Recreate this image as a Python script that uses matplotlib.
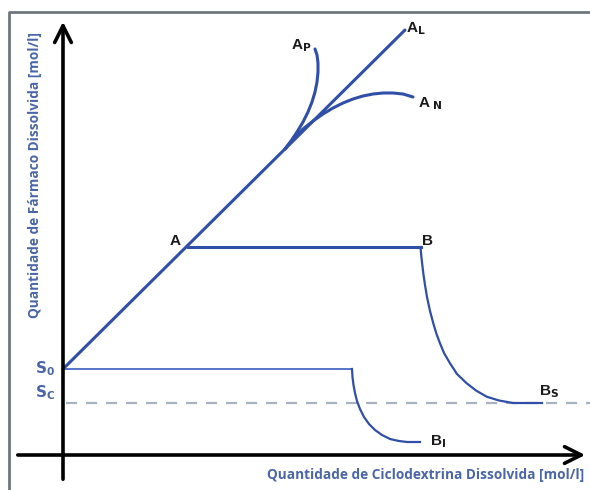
import matplotlib
matplotlib.use("Agg")
import matplotlib.pyplot as plt
from matplotlib.lines import Line2D

# Phase-solubility diagram (Higuchi-Connors types)
s0 = 8.6          # intrinsic solubility S0
sc = 5.2          # solubility of the complex Sc

# A_L: linear rise
al_x = [0.0, 34.2]
al_y = [8.6, 42.5]

# plateau A -> B
a_x, b_x, ab_y = 12.5, 35.75, 20.8

# A_P (positive deviation)
ap_x = [22.2, 22.8, 23.4, 24.0, 24.5, 24.9, 25.2, 25.4, 25.5, 25.5, 25.4, 25.2]
ap_y = [30.6, 31.4, 32.3, 33.3, 34.3, 35.3, 36.3, 37.3, 38.3, 39.2, 40.0, 40.6]

# A_N (negative deviation)
an_x = [22.2, 23.0, 24.0, 25.0, 26.0, 27.0, 28.0, 29.0, 30.0, 31.0, 32.0, 33.0, 34.0, 35.0]
an_y = [30.6, 31.6, 32.6, 33.4, 34.1, 34.7, 35.2, 35.6, 35.9, 36.1, 36.2, 36.2, 36.1, 35.8]

# B_S curve
bs_x = [35.75, 35.82, 35.92, 36.03, 36.2, 36.4, 36.7, 37.03, 37.35, 37.7, 38.1, 38.7,
        39.4, 40.37, 41.3, 42.37, 43.6, 45.0, 47.9]
bs_y = [20.8, 20.0, 19.1, 18.17, 17.0, 15.8, 14.4, 13.17, 12.1, 11.17, 10.2, 9.17,
        8.1, 7.17, 6.45, 5.83, 5.45, 5.2, 5.2]

# B_I curve
bi_x = [0.0, 28.9, 28.95, 29.05, 29.2, 29.4, 29.7, 30.1, 30.6, 31.2, 31.9, 32.7,
        33.6, 34.4, 35.7]
bi_y = [8.6, 8.6, 7.8, 7.0, 6.2, 5.4, 4.6, 3.8, 3.1, 2.5, 2.0, 1.6, 1.4, 1.3, 1.3]

blue = "#2f4fa8"
label_blue = "#4a66a8"

fig = plt.figure(figsize=(5.9, 4.9), dpi=100)
fig.patch.set_facecolor("white")
ax = fig.add_axes([0, 0, 1, 1])
ax.set_xlim(-6.3, 52.7)
ax.set_ylim(-3.5, 45.5)
ax.axis("off")

# outer frame (top and left edges)
fig.add_artist(Line2D([9/590, 9/590, 1.0], [0.0, 1 - 12/490, 1 - 12/490],
                      transform=fig.transFigure, color="#6e777d", lw=2.0))

# axes arrows
ax.annotate("", xy=(0, 43.6), xytext=(0, -2.7),
            arrowprops=dict(arrowstyle="->,head_length=1.2,head_width=0.6",
                            color="black", lw=2.6))
ax.annotate("", xy=(52.5, 0), xytext=(-4.8, 0),
            arrowprops=dict(arrowstyle="->,head_length=1.2,head_width=0.6",
                            color="black", lw=2.6))

# Sc dashed level
ax.plot([0.3, 52.7], [sc, sc], color="#a9b3c0", lw=1.6, ls=(0, (5, 4)))

# curves
ax.plot(al_x, al_y, color=blue, lw=2.2, solid_capstyle="round")
ax.plot([a_x, b_x], [ab_y, ab_y], color=blue, lw=2.2)
ax.plot(ap_x, ap_y, color=blue, lw=2.2, solid_capstyle="round")
ax.plot(an_x, an_y, color=blue, lw=2.2, solid_capstyle="round")
ax.plot(bs_x, bs_y, color=blue, lw=1.6)
ax.plot(bi_x[:2], bi_y[:2], color="#3a5cc0", lw=1.2)
ax.plot(bi_x[1:], bi_y[1:], color=blue, lw=1.6)

# point labels
lab = dict(fontsize=11, fontweight="bold", color="#1a1a1a", family="Liberation Sans")
ax.text(22.8, 40.6, r"A$_\mathbf{P}$", **lab)
ax.text(34.3, 42.3, r"A$_\mathbf{L}$", **lab)
ax.text(35.5, 34.8, r"A$_\mathbf{\ N}$", **lab)
ax.text(10.7, 21.0, "A", **lab)
ax.text(35.9, 21.0, "B", **lab)
ax.text(47.6, 6.0, r"B$_\mathbf{S}$", **lab)
ax.text(36.7, 1.0, r"B$_\mathbf{I}$", **lab)

slab = dict(fontsize=11, fontweight="bold", color=label_blue, family="DejaVu Sans")
ax.text(-0.8, s0, r"S$_\mathbf{0}$", ha="right", va="center", **slab)
ax.text(-0.8, sc + 1.0, r"S$_\mathbf{C}$", ha="right", va="center", **slab)

# axis titles
ttl = dict(fontsize=9.8, fontweight="bold", color=label_blue, family="Open Sans")
ax.text(36.3, -2.0, "Quantidade de Ciclodextrina Dissolvida [mol/l]",
        ha="center", va="center", **ttl)
ax.text(-2.8, 28.0, "Quantidade de Fármaco Dissolvida [mol/l]",
        ha="center", va="center", rotation=90, **ttl)

fig.savefig("out.png", dpi=100, facecolor="white")
